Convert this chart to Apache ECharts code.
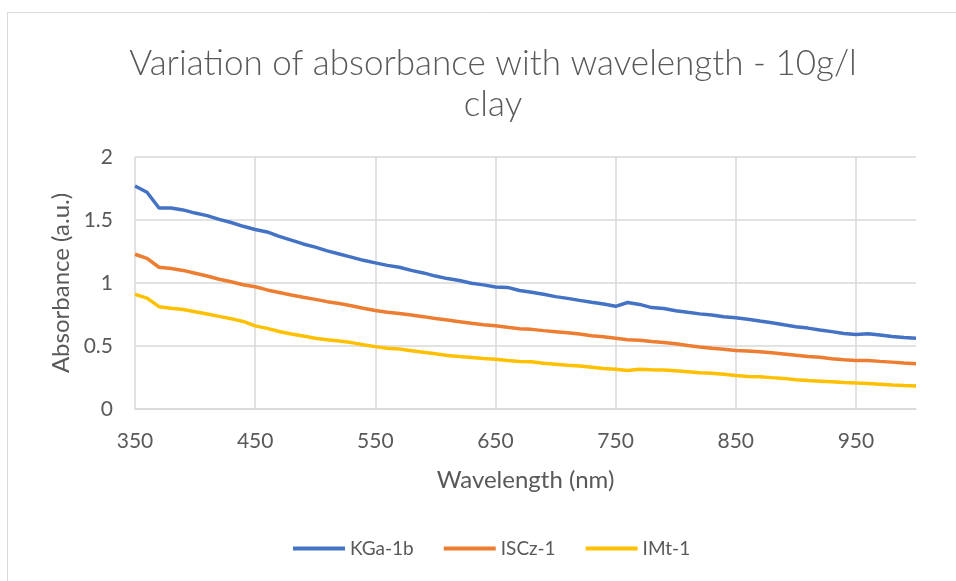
<!DOCTYPE html>
<html>
<head>
<meta charset="utf-8">
<script src="https://cdn.jsdelivr.net/npm/echarts@6/dist/echarts.min.js"></script>
<style>
html,body{margin:0;padding:0;background:#fff;}
#chart{width:956px;height:581px;}
</style>
</head>
<body>
<div id="chart"></div>
<script>
var wavelengths = ['350','360','370','380','390','400','410','420','430','440','450','460','470','480','490','500','510','520','530','540','550','560','570','580','590','600','610','620','630','640','650','660','670','680','690','700','710','720','730','740','750','760','770','780','790','800','810','820','830','840','850','860','870','880','890','900','910','920','930','940','950','960','970','980','990','1000'];

var kga1b = [1.77,1.72,1.595,1.595,1.58,1.555,1.535,1.505,1.48,1.45,1.425,1.405,1.37,1.34,1.31,1.285,1.255,1.23,1.205,1.18,1.16,1.14,1.125,1.10,1.08,1.055,1.035,1.02,0.998,0.985,0.968,0.965,0.94,0.926,0.91,0.892,0.878,0.862,0.847,0.833,0.815,0.845,0.83,0.805,0.798,0.78,0.767,0.755,0.746,0.733,0.724,0.712,0.698,0.685,0.668,0.653,0.642,0.627,0.614,0.60,0.592,0.597,0.587,0.576,0.568,0.562];

var iscz1 = [1.228,1.195,1.125,1.115,1.10,1.078,1.056,1.03,1.01,0.986,0.97,0.945,0.924,0.905,0.887,0.87,0.852,0.838,0.82,0.80,0.782,0.768,0.758,0.746,0.733,0.718,0.706,0.693,0.68,0.668,0.661,0.648,0.637,0.632,0.622,0.614,0.605,0.595,0.582,0.574,0.562,0.55,0.546,0.535,0.528,0.518,0.504,0.492,0.482,0.474,0.465,0.46,0.454,0.446,0.437,0.427,0.416,0.41,0.398,0.39,0.384,0.385,0.378,0.372,0.365,0.36];

var imt1 = [0.91,0.88,0.812,0.80,0.79,0.772,0.754,0.735,0.717,0.695,0.66,0.64,0.615,0.595,0.58,0.562,0.55,0.54,0.527,0.51,0.495,0.482,0.476,0.463,0.45,0.438,0.425,0.416,0.408,0.4,0.394,0.385,0.377,0.375,0.363,0.355,0.347,0.341,0.332,0.322,0.315,0.306,0.316,0.312,0.31,0.304,0.296,0.288,0.283,0.275,0.266,0.258,0.256,0.249,0.243,0.232,0.226,0.221,0.216,0.21,0.206,0.202,0.197,0.191,0.186,0.182];

var yTicks = [0, 0.5, 1, 1.5, 2];

var seriesNames = ['KGa-1b', 'ISCz-1', 'IMt-1'];
var seriesColors = ['#4472C4', '#ED7D31', '#FFC000'];
var seriesData = [kga1b, iscz1, imt1];

var FONT = 'Lato, "Liberation Sans", sans-serif';
var TXT = '#595959';

var chart = echarts.init(document.getElementById('chart'), null, {renderer: 'canvas'});
chart.setOption({
  animation: false,
  backgroundColor: '#ffffff',
  graphic: [{
    type: 'rect',
    shape: {x: 7.5, y: 12.5, width: 1000, height: 1000},
    style: {fill: 'none', stroke: '#d9d9d9', lineWidth: 1},
    silent: true,
    z: -10
  }],
  title: {
    text: 'Variation of absorbance with wavelength - 10g/l\nclay',
    left: 488,
    textAlign: 'center',
    top: 38,
    textStyle: {
      fontFamily: FONT,
      fontWeight: 300,
      fontSize: 35,
      color: TXT,
      lineHeight: 41
    }
  },
  legend: {
    data: seriesNames,
    bottom: 18,
    left: 288,
    icon: 'rect',
    itemWidth: 52,
    itemHeight: 4,
    itemGap: 30,
    textStyle: {fontFamily: FONT, fontSize: 19, color: TXT, padding: [0, 0, 0, 0]}
  },
  grid: {left: 135, right: 40, top: 157, bottom: 172},
  xAxis: {
    type: 'category',
    data: wavelengths,
    boundaryGap: false,
    name: 'Wavelength (nm)',
    nameLocation: 'middle',
    nameGap: 59,
    nameTextStyle: {fontFamily: FONT, fontSize: 24, color: TXT},
    axisLine: {lineStyle: {color: '#d9d9d9', width: 1.5}},
    axisTick: {show: false},
    axisLabel: {interval: 9, margin: 22, fontFamily: FONT, fontSize: 21, color: TXT},
    splitLine: {show: true, interval: 9, lineStyle: {color: '#d9d9d9', width: 1.5}}
  },
  yAxis: {
    type: 'value',
    min: yTicks[0],
    max: yTicks[yTicks.length - 1],
    interval: 0.5,
    name: 'Absorbance (a.u.)',
    nameLocation: 'middle',
    nameGap: 60,
    nameTextStyle: {fontFamily: FONT, fontSize: 24, color: TXT},
    axisLine: {show: false},
    axisTick: {show: false},
    axisLabel: {margin: 22, fontFamily: FONT, fontSize: 21, color: TXT},
    splitLine: {show: true, lineStyle: {color: '#d9d9d9', width: 1.5}}
  },
  series: seriesNames.map(function (n, i) {
    return {
      name: n,
      type: 'line',
      data: seriesData[i],
      symbol: 'none',
      smooth: false,
      lineStyle: {color: seriesColors[i], width: 3.5},
      itemStyle: {color: seriesColors[i]}
    };
  })
});
</script>
</body>
</html>
